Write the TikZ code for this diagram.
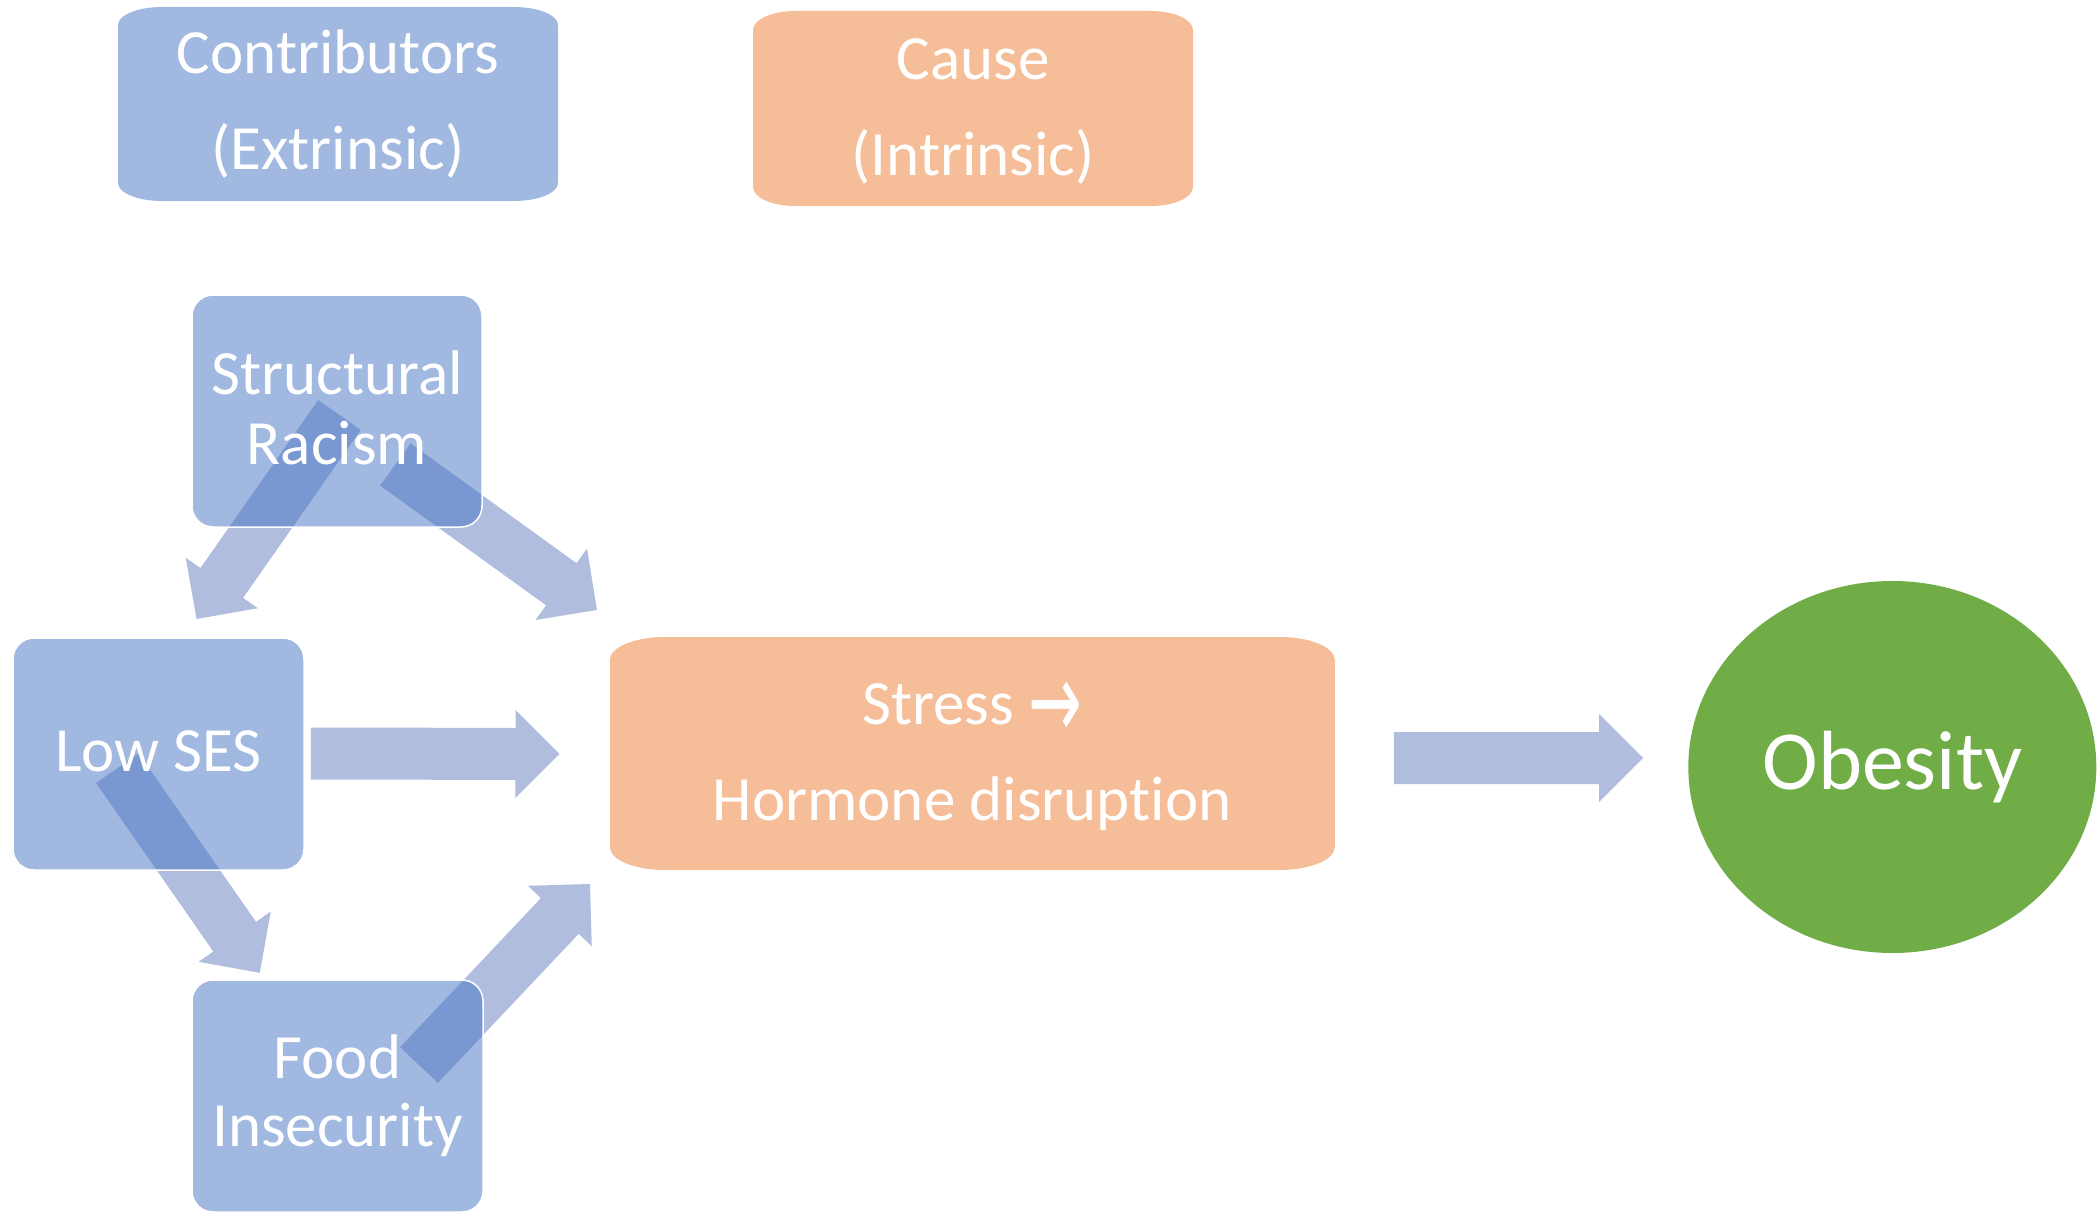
\documentclass[tikz,border=0pt]{standalone}
\usepackage{fontspec}
\usepackage{graphicx}
\setmainfont{Carlito}[Ligatures=CommonOff]
\newfontfamily\symfont{DejaVu Sans}
\usetikzlibrary{calc,shapes.geometric}
\definecolor{boxblue}{HTML}{4472C4}
\definecolor{boxorange}{HTML}{ED7D31}
\definecolor{arrowblue}{HTML}{B0BDDF}
\definecolor{obgreen}{HTML}{70AD47}
\pgfdeclarelayer{arrowlayer}
\pgfdeclarelayer{boxlayer}
\pgfsetlayers{arrowlayer,boxlayer,main}
% block arrow from tail centre #1 to tip #2
\newcommand\blockarrow[2]{%
  \fill[arrowblue] let \p1=($(#2)-(#1)$), \n1={atan2(\y1,\x1)}, \n2={veclen(\x1,\y1)} in
    ([shift={(#1)},rotate=\n1]0pt,26pt)
    -- ([shift={(#1)},rotate=\n1]\n2-44pt,26pt)
    -- ([shift={(#1)},rotate=\n1]\n2-44pt,44pt)
    -- ([shift={(#1)},rotate=\n1]\n2,0pt)
    -- ([shift={(#1)},rotate=\n1]\n2-44pt,-44pt)
    -- ([shift={(#1)},rotate=\n1]\n2-44pt,-26pt)
    -- ([shift={(#1)},rotate=\n1]0pt,-26pt) -- cycle;}
% rounded box with elliptic corners round node #1
\newcommand\ellrect[4]{%
  \fill[#4] ([xshift=#2]#1.north west) -- ([xshift=-#2]#1.north east)
    arc[start angle=90,end angle=0,x radius=#2,y radius=#3]
    -- ([yshift=#3]#1.south east)
    arc[start angle=0,end angle=-90,x radius=#2,y radius=#3]
    -- ([xshift=#2]#1.south west)
    arc[start angle=270,end angle=180,x radius=#2,y radius=#3]
    -- ([yshift=-#3]#1.north west)
    arc[start angle=180,end angle=90,x radius=#2,y radius=#3] -- cycle;}
\newcommand\hstrut[1]{\rule{0pt}{#1}}
\newcommand\dstrut[1]{\rule[-#1]{0pt}{#1}}
\begin{document}
\begin{tikzpicture}[x=1pt,y=-1pt,
  every node/.style={inner sep=0pt,outer sep=0pt,text=white,align=center},
  bluebox/.style={rectangle,rounded corners=21pt,fill=boxblue,fill opacity=0.5,
    text opacity=1,draw=white,draw opacity=1,line width=1.5pt},
  headbox/.style={rectangle,font=\fontsize{63}{96}\selectfont},
  orangefill/.style={fill=boxorange,fill opacity=0.5},
  bluefill/.style={fill=boxblue,fill opacity=0.5}]
\useasboundingbox (0,0) rectangle (2100,1212);

% header boxes
\node[headbox,minimum width=440pt,minimum height=194pt] (contrib) at (338,104) {Contributors\\(Extrinsic)};
\node[headbox,minimum width=440pt,minimum height=195pt] (cause) at (973,108.5) {\hstrut{46pt}Cause\\(Intrinsic)};

% factor boxes
\node[bluebox,minimum width=290pt,minimum height=232pt,font=\fontsize{63}{70}\selectfont] (racism) at (337,411) {Structural\\Racism\dstrut{6pt}};
\node[bluebox,minimum width=291pt,minimum height=232pt,font=\fontsize{63}{70}\selectfont] (ses) at (158.5,754) {Low SES\dstrut{5.5pt}};
\node[bluebox,minimum width=291pt,minimum height=232pt,font=\fontsize{63}{68}\selectfont] (food) at (337.5,1096) {Food\\Insecurity};
\node[headbox,minimum width=725pt,minimum height=233pt] (stress) at (972.3,753.5) {\hstrut{49pt}Stress {\symfont\raisebox{-14pt}{\scalebox{1.02}[1.7]{→}}}\\Hormone disruption};
\node[ellipse,fill=obgreen,minimum width=408pt,minimum height=372pt,font=\fontsize{84}{90}\selectfont] (obesity) at (1892.3,767) {Obesity};

\begin{pgfonlayer}{boxlayer}
  \ellrect{contrib}{44pt}{18pt}{bluefill}
  \ellrect{cause}{42pt}{19pt}{orangefill}
  \ellrect{stress}{55pt}{23pt}{orangefill}
\end{pgfonlayer}

% arrow ends
\coordinate (a1s) at (339.5,415);  \coordinate (a1e) at (196.5,619);
\coordinate (a2s) at (395.3,464.5); \coordinate (a2e) at (597,610);
\coordinate (a3s) at (310.8,753.5); \coordinate (a3e) at (559.5,754);
\coordinate (a4s) at (117.4,768.2); \coordinate (a4e) at (259.8,972.8);
\coordinate (a5s) at (419,1065);    \coordinate (a5e) at (590,884);
\coordinate (a6s) at (1393.8,758);  \coordinate (a6e) at (1643,758);

\begin{pgfonlayer}{arrowlayer}
  \blockarrow{a1s}{a1e}
  \blockarrow{a2s}{a2e}
  \blockarrow{a3s}{a3e}
  \blockarrow{a4s}{a4e}
  \blockarrow{a5s}{a5e}
  \blockarrow{a6s}{a6e}
\end{pgfonlayer}
\end{tikzpicture}
\end{document}
